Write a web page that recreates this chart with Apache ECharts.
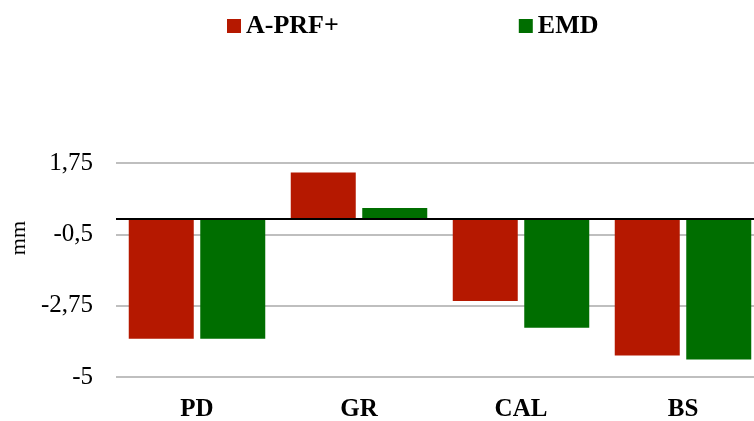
<!DOCTYPE html>
<html>
<head>
<meta charset="utf-8">
<script src="https://cdn.jsdelivr.net/npm/echarts@6/dist/echarts.min.js"></script>
<style>
    html, body { margin: 0; padding: 0; background: #fff; }
    #chart { width: 754px; height: 421px; }
</style>
</head>
<body>
<div id="chart"></div>
<script>
const categories = ['PD', 'GR', 'CAL', 'BS'];
const aprfValues = [-3.79, 1.45, -2.6, -4.32];
const emdValues = [-3.79, 0.33, -3.45, -4.45];
const seriesNames = ['A-PRF+', 'EMD'];

let chart = echarts.init(document.getElementById('chart'));
const serif = '"Liberation Serif", "Times New Roman", serif';

const option = {
    animation: false,
    legend: {
        left: 222,
        top: 8,
        icon: 'rect',
        itemWidth: 14,
        itemHeight: 14,
        itemGap: 180,
        textStyle: {fontFamily: serif, fontSize: 26, fontWeight: 'bold', color: '#000'},
        data: seriesNames
    },
    graphic: [{
        type: 'text',
        left: 8,
        top: 221,
        rotation: Math.PI / 2,
        style: {text: 'mm', font: '22px ' + serif, fill: '#000'}
    }],
    // plot runs a little past the right edge, as in the source picture
    grid: {
        left: 116,
        width: 648,
        top: 163,
        bottom: 44,
        containLabel: false,
        outerBoundsMode: 'none'
    },
    xAxis: {
        type: 'category',
        data: categories,
        axisLine: {show: false},
        axisTick: {show: false},
        axisLabel: {
            margin: 20,
            fontFamily: serif, fontSize: 25, fontWeight: 'bold', color: '#000'
        }
    },
    yAxis: {
        type: 'value',
        min: -5,
        max: 1.75,
        interval: 2.25,
        axisLine: {show: false},
        axisTick: {show: false},
        splitLine: {lineStyle: {color: '#bfbfbf', width: 2}},
        axisLabel: {
            margin: 23,
            fontFamily: serif, fontSize: 25, color: '#000',
            formatter: v => String(v).replace('.', ',')
        }
    },
    series: [
        {
            name: seriesNames[0],
            type: 'bar',
            data: aprfValues,
            barWidth: 65,
            barGap: '10%',
            itemStyle: {color: '#b51800'},
            markLine: {
                silent: true,
                symbol: 'none',
                label: {show: false},
                lineStyle: {color: '#000', width: 2, type: 'solid'},
                data: [{yAxis: 0}]
            }
        },
        {
            name: seriesNames[1],
            type: 'bar',
            data: emdValues,
            barWidth: 65,
            barGap: '10%',
            itemStyle: {color: '#006e00'}
        }
    ]
};

chart.setOption(option);
</script>
</body>
</html>
